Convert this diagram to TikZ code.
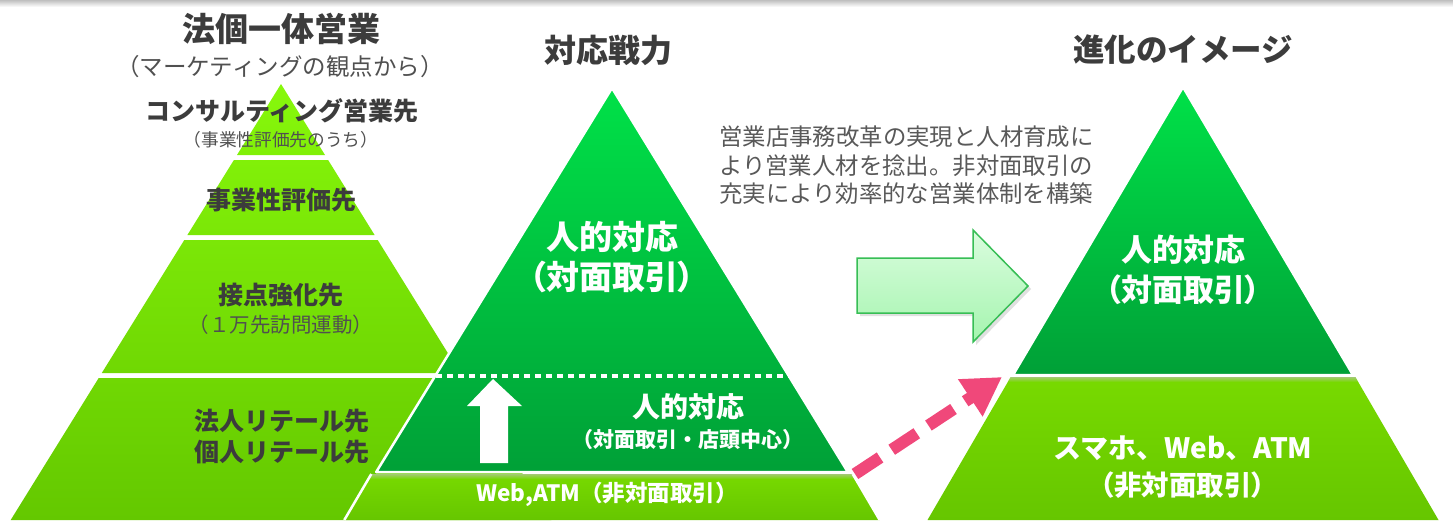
\documentclass[tikz,border=0pt]{standalone}
\usepackage{fontspec}
\setmainfont{Noto Sans CJK JP}
\newfontfamily\pj{Noto Sans CJK JP}[RawFeature=+palt]
\usetikzlibrary{arrows.meta}
\definecolor{txtdark}{RGB}{60,60,60}
\definecolor{txtgray}{RGB}{80,80,80}
\definecolor{lgA}{RGB}{135,248,12}
\definecolor{lgB}{RGB}{129,240,8}
\definecolor{lgC}{RGB}{123,231,7}
\definecolor{lgD}{RGB}{112,216,3}
\definecolor{lgE}{RGB}{100,200,0}
\definecolor{dgTop}{RGB}{0,225,72}
\definecolor{dgBot}{RGB}{0,160,55}
\definecolor{ygTop}{RGB}{120,218,0}
\definecolor{ygBot}{RGB}{102,198,0}
\definecolor{arrTop}{RGB}{218,252,222}
\definecolor{arrBot}{RGB}{165,245,175}
\definecolor{arrLine}{RGB}{55,190,85}
\definecolor{pinkc}{RGB}{240,72,122}
\tikzset{
  lbl/.style={text=txtdark, font=\bfseries\fontsize{25}{29}\selectfont, align=center, inner sep=0},
  sublbl/.style={text=txtgray, inner sep=0, align=center},
  wlbl/.style={text=white, align=center, inner sep=0},
  whiteline/.style={draw=white, line width=2.5, line join=round},
  pinkarrow/.style={draw=pinkc, line width=12, dash pattern=on 30 off 14, -{Triangle[length=38pt,width=42pt]}},
}
\begin{document}
\begin{tikzpicture}[x=1pt,y=-1pt]
\useasboundingbox (0,0) rectangle (1453,520);
\fill[white] (0,0) rectangle (1453,520);
\shade[top color=black!25, bottom color=white] (0,0) rectangle (1453,7);

% ---------- left pyramid ----------
\shade[top color=lgA, bottom color=lgB] (281,84) -- (325,155) -- (237,155) -- cycle;
\shade[top color=lgB, bottom color=lgC] (233.9,160) -- (328.1,160) -- (374.6,235) -- (187.4,235) -- cycle;
\shade[top color=lgC, bottom color=lgD] (184.3,240) -- (377.7,240) -- (460.2,373) -- (101.8,373) -- cycle;
\shade[top color=lgD, bottom color=lgE] (98.7,378) -- (463.3,378) -- (551.3,520) -- (10.7,520) -- cycle;

% ---------- middle pyramid ----------
\shade[top color=ygTop, bottom color=ygBot] (371.3,474) -- (852.7,474) -- (879.7,520) -- (344.3,520) -- cycle;
\shade[top color=black!25, bottom color=ygTop, opacity=0.6] (371.3,474) -- (852.7,474) -- (855.5,479) -- (368.4,479) -- cycle;
\draw[whiteline] (344.3,520) -- (371.3,474);
\draw[whiteline] (852.7,474) -- (879.7,520);
\shade[top color=dgTop, bottom color=dgBot] (612,88) -- (847.8,472) -- (376.2,472) -- cycle;
\draw[whiteline] (612,88) -- (847.8,472) -- (376.2,472) -- cycle;
\draw[white, line width=4, dash pattern=on 6 off 5] (436,376) -- (789,376);
\fill[white] (493,379) -- (522,406) -- (508,406) -- (508,463) -- (480,463) -- (480,406) -- (467,406) -- cycle;

% ---------- right pyramid ----------
\shade[top color=ygTop, bottom color=ygBot] (1010.7,377) -- (1355.3,377) -- (1438.5,520) -- (927.5,520) -- cycle;
\shade[top color=black!25, bottom color=ygTop, opacity=0.6] (1010.7,377) -- (1355.3,377) -- (1358.2,382) -- (1007.8,382) -- cycle;
\shade[top color=dgTop, bottom color=dgBot] (1183,87) -- (1353,375) -- (1013,375) -- cycle;
\draw[whiteline] (1183,87) -- (1353,375) -- (1013,375) -- cycle;

% ---------- big right arrow ----------
\fill[black!12] (860,261) -- (976,261) -- (976,233) -- (1031,289) -- (976,345) -- (976,316) -- (860,316) -- cycle;
\shade[top color=arrTop, bottom color=arrBot]
  (857,258) -- (973,258) -- (973,230) -- (1028,286) -- (973,342) -- (973,313) -- (857,313) -- cycle;
\draw[arrLine, line width=1.5, line join=miter]
  (857,258) -- (973,258) -- (973,230) -- (1028,286) -- (973,342) -- (973,313) -- (857,313) -- cycle;

% ---------- pink dashed arrow ----------
\coordinate (pa) at (855,474);
\coordinate (pb) at (1002,377);
\draw[pinkarrow] (pa) -- (pb);

% ---------- titles ----------
\node[lbl, font=\bfseries\fontsize{33}{36}\selectfont] (t1) at (281,29) {法個一体営業};
\node[sublbl, font=\fontsize{23.5}{28}\selectfont] (t1s) at (280,67) {（マーケティングの観点から）};
\node[lbl, font=\bfseries\fontsize{32}{36}\selectfont] (t2) at (608,50) {対応戦力};
\node[lbl, font=\bfseries\fontsize{31.5}{36}\selectfont] (t3) at (1183,50) {進化のイメージ};

% ---------- left labels ----------
\node[lbl] (l1) at (282,111) {コンサルティング営業先};
\node[sublbl, font=\fontsize{17.7}{20}\selectfont] (l1s) at (281,140) {（事業性評価先のうち）};
\node[lbl] (l2) at (281,200) {事業性評価先};
\node[lbl] (l3) at (281,295) {接点強化先};
\node[sublbl, font=\fontsize{20.5}{24}\selectfont] (l3s) at (281,325) {（１万先訪問運動）};
\node[lbl] (l4) at (282,437) {法人リテール先\\[2pt]個人リテール先};

% ---------- middle labels ----------
\node[wlbl, font=\bfseries\fontsize{33}{40}\selectfont] (m1) at (612,237) {人的対応};
\node[wlbl, font=\pj\bfseries\fontsize{33}{40}\selectfont] (m1s) at (612,277) {（対面取引）};
\node[wlbl, font=\bfseries\fontsize{28}{32}\selectfont] (m2) at (688,407) {人的対応};
\node[wlbl, font=\bfseries\fontsize{21}{24}\selectfont] (m2s) at (688,440) {（対面取引・店頭中心）};
\node[wlbl, font=\bfseries\fontsize{22.5}{24}\selectfont] (m3) at (607,494) {Web,ATM（非対面取引）};

% ---------- description ----------
\node[sublbl, text=txtdark!85, align=left, anchor=north west, font=\fontsize{23.4}{28.5}\selectfont] (desc) at (719,126)
  {営業店事務改革の実現と人材育成に\\より営業人材を捻出。非対面取引の\\充実により効率的な営業体制を構築};

% ---------- right labels ----------
\node[wlbl, font=\bfseries\fontsize{31}{40}\selectfont] (r1) at (1183,250) {人的対応};
\node[wlbl, font=\pj\bfseries\fontsize{31}{40}\selectfont] (r1s) at (1183,290) {（対面取引）};
\node[wlbl, font=\bfseries\fontsize{28}{32}\selectfont] (r2) at (1183,448) {スマホ、Web、ATM};
\node[wlbl, font=\pj\bfseries\fontsize{27.5}{32}\selectfont] (r2s) at (1183,485) {（非対面取引）};
\end{tikzpicture}
\end{document}
